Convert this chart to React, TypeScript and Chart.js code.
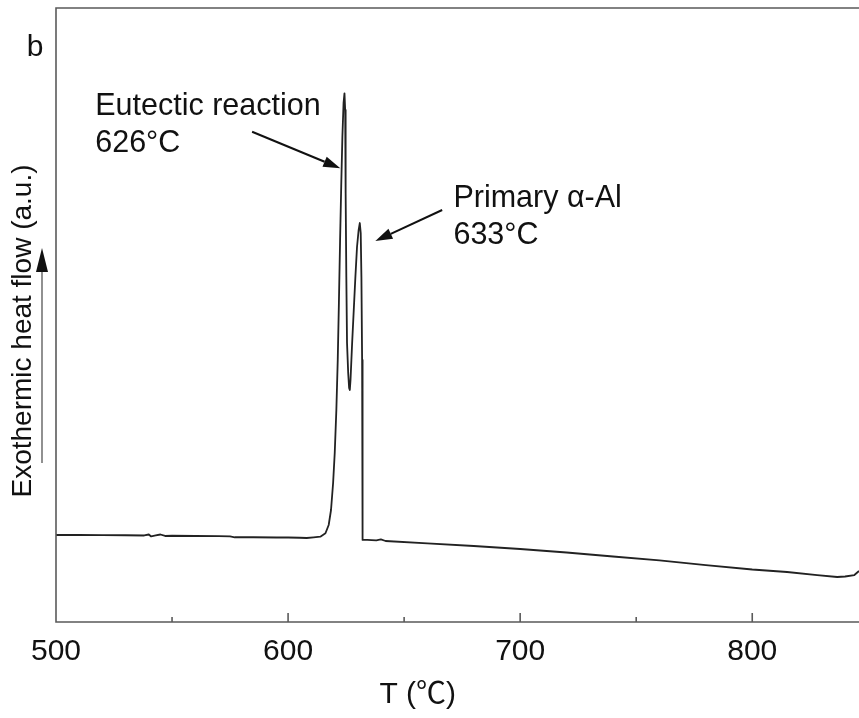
import React, { useEffect, useRef } from 'react';
import { Chart, registerables } from 'chart.js';

Chart.register(...registerables);

// DSC cooling curve: temperature (°C) vs exothermic heat flow (a.u.)
const temperature = [
  500, 510, 520, 530, 538, 540, 541, 543, 545, 547, 550, 560, 570, 575, 577, 585, 595, 600, 605, 608,
  611, 613.9, 616.1, 617.5, 618.5, 619.4, 620.1, 620.8, 621.4, 621.9, 622.4, 622.9, 623.4, 623.9, 624.3,
  624.6, 624.8, 625.1, 625.4, 625.9, 626.3, 626.6, 626.9, 627.6, 628.3, 629.0, 629.7, 630.4, 630.9,
  631.3, 631.6, 631.9, 632.0, 632.2, 634.1, 638, 640, 642, 660, 680, 700, 720,
  740, 760, 780, 800, 815, 828, 836.6, 840, 844, 846,
];
const heatFlow = [
  14.17, 14.17, 14.15, 14.13, 14.09, 14.25, 13.93, 14.09, 14.25, 14.01, 14.05, 14.01, 13.97, 13.93, 13.8,
  13.8, 13.76, 13.76, 13.72, 13.68,
  13.79, 13.89, 14.45, 15.8, 18.24, 22.64, 27.52, 34.53, 42.67, 52.0, 62.0, 71.0, 79.0, 84.5, 86.11,
  83.39, 69.87, 56.19, 45.44, 40.55, 38.11, 37.79, 39.41, 45.44, 50.81, 56.19, 61.07, 63.84, 64.98,
  63.36, 56.19, 42.67, 26.38, 13.36, 13.36, 13.28, 13.44, 13.19, 12.79, 12.38, 11.89, 11.32,
  10.67, 10.02, 9.28, 8.55, 8.14, 7.65, 7.33, 7.41, 7.65, 8.31,
];

const xMin = 500;
const xMax = 846;
const xStep = 50;
const xLabelStep = 100;
const yMin = 0;
const yMax = 100;

const xAxisTitle = 'T (℃)';
const yAxisTitle = 'Exothermic heat flow (a.u.)';
const panelLabel = 'b';

// annotations: text lines, text anchor (T, value), arrow tail and head (T, value)
const annotationTexts = [
  ['Eutectic reaction', '626°C'],
  ['Primary α-Al', '633°C'],
];
const annotationTextAnchors = [
  [516.9, 82.57],
  [671.25, 67.59],
];
const annotationArrowTails = [
  [584.5, 79.85],
  [666.4, 67.1],
];
const annotationArrowHeads = [
  [622.5, 73.9],
  [637.6, 62.05],
];

const FONT = '"Liberation Sans", Arial, "Noto Sans CJK SC", sans-serif';

function drawArrow(ctx: CanvasRenderingContext2D, x1: number, y1: number, x2: number, y2: number, headLen: number, headW: number) {
  const ang = Math.atan2(y2 - y1, x2 - x1);
  const bx = x2 - headLen * Math.cos(ang);
  const by = y2 - headLen * Math.sin(ang);
  ctx.beginPath();
  ctx.moveTo(x1, y1);
  ctx.lineTo(bx, by);
  ctx.stroke();
  const nx = -Math.sin(ang) * headW / 2;
  const ny = Math.cos(ang) * headW / 2;
  ctx.beginPath();
  ctx.moveTo(x2, y2);
  ctx.lineTo(bx + nx, by + ny);
  ctx.lineTo(bx - nx, by - ny);
  ctx.closePath();
  ctx.fill();
}

const decorPlugin = {
  id: 'decor',
  afterDraw(chart: any) {
    const { ctx, chartArea: a, scales } = chart;
    const x = scales.x;
    const y = scales.y;
    ctx.save();

    // frame (left, top, bottom)
    ctx.strokeStyle = '#5a5a5a';
    ctx.lineWidth = 1.6;
    ctx.beginPath();
    ctx.moveTo(chart.width + 2, a.top);
    ctx.lineTo(a.left, a.top);
    ctx.lineTo(a.left, a.bottom);
    ctx.lineTo(chart.width + 2, a.bottom);
    ctx.stroke();

    // inward tick marks
    x.ticks.forEach((t: any) => {
      if (t.value <= xMin || t.value > xMax) return;
      const px = x.getPixelForValue(t.value);
      const len = t.value % xLabelStep === 0 ? 9 : 5;
      ctx.beginPath();
      ctx.moveTo(px, a.bottom);
      ctx.lineTo(px, a.bottom - len);
      ctx.stroke();
    });

    // annotations
    ctx.fillStyle = '#111';
    ctx.strokeStyle = '#111';
    ctx.lineWidth = 2;
    ctx.font = `30.5px ${FONT}`;
    ctx.textAlign = 'left';
    ctx.textBaseline = 'alphabetic';
    annotationTexts.forEach((lines, i) => {
      const tx = x.getPixelForValue(annotationTextAnchors[i][0]);
      const ty = y.getPixelForValue(annotationTextAnchors[i][1]);
      lines.forEach((ln, j) => ctx.fillText(ln, tx, ty + j * 37));
      drawArrow(
        ctx,
        x.getPixelForValue(annotationArrowTails[i][0]),
        y.getPixelForValue(annotationArrowTails[i][1]),
        x.getPixelForValue(annotationArrowHeads[i][0]),
        y.getPixelForValue(annotationArrowHeads[i][1]),
        17,
        11
      );
    });

    // panel label
    ctx.font = `30px ${FONT}`;
    ctx.textAlign = 'center';
    ctx.textBaseline = 'middle';
    ctx.fillText(panelLabel, a.left - 21, a.top + 40);

    // y axis title (rotated)
    ctx.save();
    ctx.translate(a.left - 33, a.top + 323);
    ctx.rotate(-Math.PI / 2);
    ctx.font = `28px ${FONT}`;
    ctx.textAlign = 'center';
    ctx.textBaseline = 'middle';
    ctx.fillText(yAxisTitle, 0, 0);
    ctx.restore();

    // upward arrow next to y title
    ctx.strokeStyle = '#555';
    ctx.fillStyle = '#111';
    ctx.lineWidth = 1.3;
    drawArrow(ctx, a.left - 14, a.top + 455, a.left - 14, a.top + 240, 24, 12);

    // x axis title
    ctx.fillStyle = '#111';
    ctx.font = `30px ${FONT}`;
    ctx.textAlign = 'center';
    ctx.textBaseline = 'middle';
    ctx.fillText(xAxisTitle, a.left + (a.right - a.left) * 0.4505, a.bottom + 73);

    ctx.restore();
  },
};

export default function App() {
  const ref = useRef<HTMLCanvasElement | null>(null);

  useEffect(() => {
    if (!ref.current) return;
    const points = temperature.map((t, i) => ({ x: t, y: heatFlow[i] }));
    const chart = new Chart(ref.current, {
      type: 'scatter',
      data: {
        datasets: [
          {
            data: points,
            showLine: true,
            borderColor: '#222',
            borderWidth: 1.8,
            borderJoinStyle: 'round',
            pointRadius: 0,
            tension: 0,
          },
        ],
      },
      options: {
        animation: false,
        responsive: true,
        maintainAspectRatio: false,
        layout: { padding: { left: 56, top: 8, right: 0, bottom: 0 } },
        plugins: { legend: { display: false }, tooltip: { enabled: false } },
        scales: {
          x: {
            type: 'linear',
            min: xMin,
            max: xMax,
            grid: { display: false, drawTicks: false },
            border: { display: false },
            ticks: {
              stepSize: xStep,
              includeBounds: false,
              autoSkip: false,
              maxRotation: 0,
              padding: 12,
              color: '#111',
              font: { family: FONT, size: 30 },
              callback: (v: any) => (Number(v) % xLabelStep === 0 ? String(v) : ''),
            },
            afterFit: (s: any) => {
              s.height = 96;
            },
          },
          y: {
            display: false,
            min: yMin,
            max: yMax,
          },
        },
      },
      plugins: [decorPlugin],
    });
    return () => chart.destroy();
  }, []);

  return (
    <div style={{ position: 'fixed', left: 0, top: 0, width: 859, height: 718, background: '#fff' }}>
      <canvas ref={ref} />
    </div>
  );
}
